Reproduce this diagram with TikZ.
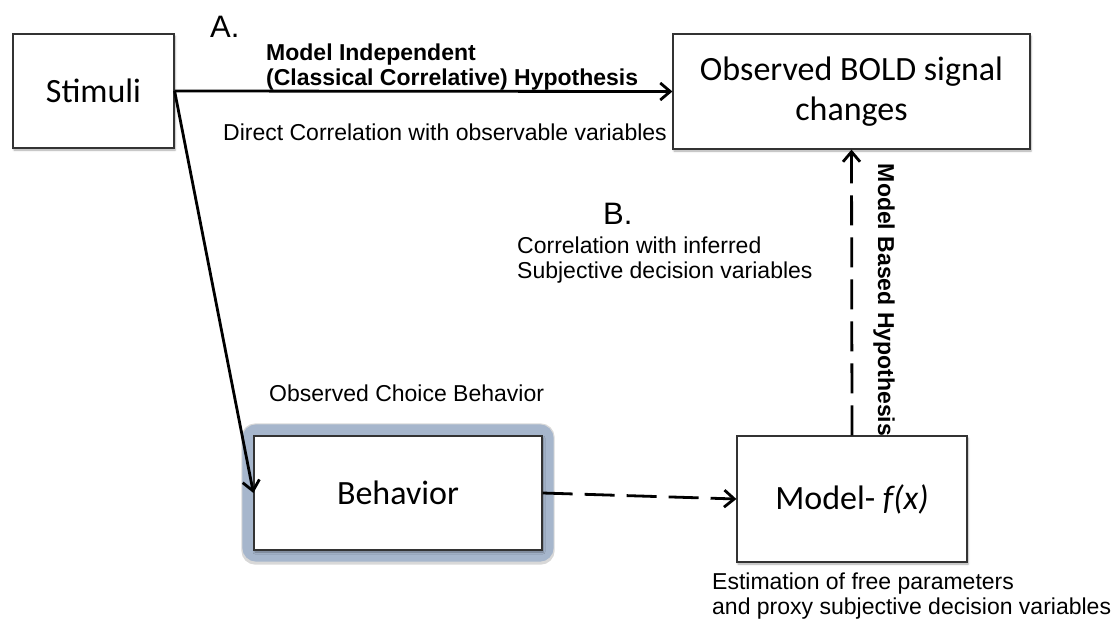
\documentclass[tikz,border=0pt]{standalone}
\usepackage{fontspec}
\setmainfont{Liberation Sans}
\newfontfamily\boxfont{Carlito}
\usepackage{xcolor}
\usepackage{tikz}
\usetikzlibrary{positioning, arrows.meta, shadows.blur, backgrounds}
\definecolor{glowblue}{RGB}{166,182,204}

\begin{document}
\begin{tikzpicture}[
    x=1pt, y=-1pt,
    box/.style={
        draw=black!80,
        line width=1.2pt,
        fill=white,
        align=center,
        inner sep=0pt,
        font=\boxfont\fontsize{34}{40}\selectfont,
        blur shadow={shadow xshift=1pt, shadow yshift=-2pt, shadow blur steps=4,
                     shadow blur radius=2pt, shadow opacity=35}
    },
    lbl/.style={anchor=north west, align=left, inner sep=0pt, font=\fontsize{23}{25}\selectfont},
    boldlbl/.style={lbl, font=\bfseries\fontsize{23}{25}\selectfont},
    letter/.style={anchor=north west, inner sep=0pt, font=\fontsize{31}{31}\selectfont},
    arrow/.style={-{Straight Barb[length=10pt,width=17pt]}, line width=2.8pt},
    dasharrow/.style={arrow, dash pattern=on 30pt off 12pt}
]
\useasboundingbox (0,0) rectangle (1114,622);

% Boxes
\node[box, minimum width=161pt, minimum height=114pt] (stimuli) at (93.5,91) {Stimuli};
\node[box, minimum width=357pt, minimum height=115pt] (bold) at (851.5,91.5) {Observed BOLD signal\\changes};
\node[box, minimum width=288pt, minimum height=114pt] (behavior) at (398,493) {Behavior};
\node[box, minimum width=230pt, minimum height=126pt] (model) at (852,499) {Model- \textit{f(x)}};

% glow round the behavior box
\begin{scope}[on background layer]
\draw[black!30, line width=8pt, rounded corners=10pt, opacity=.5]
    ([shift={(-8,10)}]behavior.south west) rectangle ([shift={(8,-8)}]behavior.north east);
\draw[glowblue, line width=12pt, rounded corners=8pt]
    ([shift={(-5,5)}]behavior.south west) rectangle ([shift={(5,-5)}]behavior.north east);
\end{scope}

% Labels
\node[letter] (labA) at (210,16) {A.};
\node[boldlbl] (indep) at (266,44) {Model Independent\\(Classical Correlative) Hypothesis};
\node[lbl] (direct) at (223,124) {Direct Correlation with observable variables};
\node[letter] (labB) at (603,203) {B.};
\node[lbl] (inferred) at (517,237) {Correlation with inferred\\Subjective decision variables};
\node[lbl] (choice) at (269,385) {Observed Choice Behavior};
\node[lbl] (estim) at (712,573) {Estimation of free parameters\\and proxy subjective decision variables};
\node[boldlbl, anchor=center, rotate=-90] (based) at (884,300) {Model Based Hypothesis};

% Arrows
\draw[arrow] (stimuli.east) -- (bold.west);
\draw[arrow] (stimuli.east) -- (behavior.west);
\draw[dasharrow] (behavior.east) -- (model.west);
\draw[dasharrow] (model.north) -- (bold.south);

\end{tikzpicture}
\end{document}
